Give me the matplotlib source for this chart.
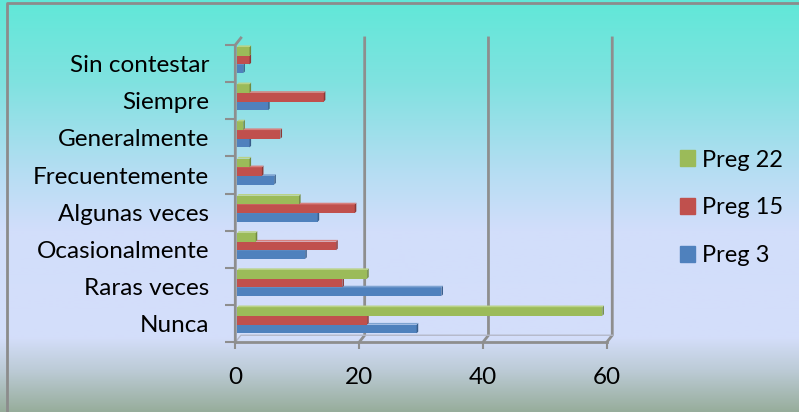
import numpy as np
import matplotlib.pyplot as plt
from matplotlib.patches import Polygon, Patch
from matplotlib.lines import Line2D
import matplotlib.colors as mplc

categorias = ['Nunca', 'Raras veces', 'Ocasionalmente', 'Algunas veces',
              'Frecuentemente', 'Generalmente', 'Siempre', 'Sin contestar']
preg3 = [29, 33, 11, 13, 6, 2, 5, 1]
preg15 = [21, 17, 16, 19, 4, 7, 14, 2]
preg22 = [59, 21, 3, 10, 2, 1, 2, 2]
series = ['Preg 3', 'Preg 15', 'Preg 22']
xticks = [0, 20, 40, 60]

colores = ['#4F81BD', '#C0504D', '#9BBB59']
lados = ['#385D8A', '#8C3836', '#71893F']
tapas = ['#7EA3D1', '#D7807E', '#B9D286']

plt.rcParams['font.family'] = ['Lato', 'DejaVu Sans']

fig = plt.figure(figsize=(7.99, 4.12), dpi=100)

# fondo degradado
bg = fig.add_axes([0, 0, 1, 1], zorder=-5)
stops = [0.0, 0.2, 0.42, 0.56, 0.82, 0.9, 1.0]
cols = ['#60E8D8', '#80E2E0', '#B6DDF3', '#D2DEFB', '#D4DEFA', '#BCCBD6', '#97AD9B']
rgb = np.array([mplc.to_rgb(c) for c in cols])
t = np.linspace(0, 1, 400)
grad = np.stack([np.interp(t, stops, rgb[:, k]) for k in range(3)], axis=1)[:, None, :]
bg.imshow(grad, aspect='auto', extent=[0, 1, 0, 1], origin='upper')
bg.plot([7 / 799, 7 / 799, 1], [0, 1 - 3 / 412, 1 - 3 / 412], color='#8C8C8C', lw=2)
bg.set_xlim(0, 1)
bg.set_ylim(0, 1)
bg.axis('off')

ax = fig.add_axes([235.3 / 799, (412 - 342.3) / 412, 371.4 / 799, 297.3 / 412])
ax.patch.set_alpha(0)
ax.set_xlim(0, 60)
ax.set_ylim(-0.5, 7.5)

y = np.arange(len(categorias))
h = 0.234
shift = 0.094
ddx, ddy = 0.25, 0.045  # profundidad de las barras
for k, vals in enumerate([preg3, preg15, preg22]):
    yc = y + shift + (k - 1) * h
    ax.barh(yc, vals, height=h, left=0.3, color=colores[k], zorder=3 + k,
            edgecolor='none')
    for yy, v in zip(yc, vals):
        x1 = 0.3 + v
        y0, y1 = yy - h / 2, yy + h / 2
        ax.add_patch(Polygon([(x1, y0), (x1, y1), (x1 + ddx, y1 + ddy), (x1 + ddx, y0 + ddy)],
                             closed=True, color=lados[k], zorder=3 + k, lw=0))
        ax.add_patch(Polygon([(0.3, y1), (x1, y1), (x1 + ddx, y1 + ddy), (0.3 + ddx, y1 + ddy)],
                             closed=True, color=tapas[k], zorder=3 + k, lw=0))

# paredes y suelo en perspectiva
gcol = '#8E8E8E'
wdx, wdy = 0.9, 0.19
for xv in xticks[1:]:
    ax.add_line(Line2D([xv, xv + wdx, xv + wdx], [-0.5, -0.5 + wdy, 7.5 + wdy],
                       color=gcol, lw=2, zorder=1, clip_on=False))
ax.add_line(Line2D([0, 0, wdx], [-0.5, 7.5, 7.5 + wdy], color=gcol, lw=2, zorder=2, clip_on=False))
ax.add_line(Line2D([0, wdx, 60 + wdx], [-0.5, -0.5 + wdy, -0.5 + wdy], color='#B4B8C8',
                   lw=1, zorder=1, clip_on=False))
ax.add_line(Line2D([0, 60], [-0.5, -0.5], color=gcol, lw=2, zorder=2, clip_on=False))

for s in ax.spines.values():
    s.set_visible(False)

ax.set_xticks(xticks)
ax.set_xticklabels([str(v) for v in xticks])
ax.tick_params(axis='x', length=5, width=1.5, color=gcol, pad=13, labelsize=17.5)
ax.set_yticks(y)
ax.set_yticklabels(categorias)
ax.set_yticks(np.arange(-0.5, 8, 1), minor=True)
ax.tick_params(axis='y', which='major', length=0, pad=19, labelsize=17.5)
ax.tick_params(axis='y', which='minor', length=7, width=1.5, color=gcol)

handles = [Patch(color=colores[k]) for k in (2, 1, 0)]
fig.legend(handles, [series[k] for k in (2, 1, 0)], loc='center left',
           bbox_to_anchor=(659 / 799, 1 - 208 / 412), frameon=False, fontsize=17,
           handlelength=0.64, handleheight=0.64, handletextpad=0.3, labelspacing=1.14)

fig.savefig('out.png', dpi=100)
